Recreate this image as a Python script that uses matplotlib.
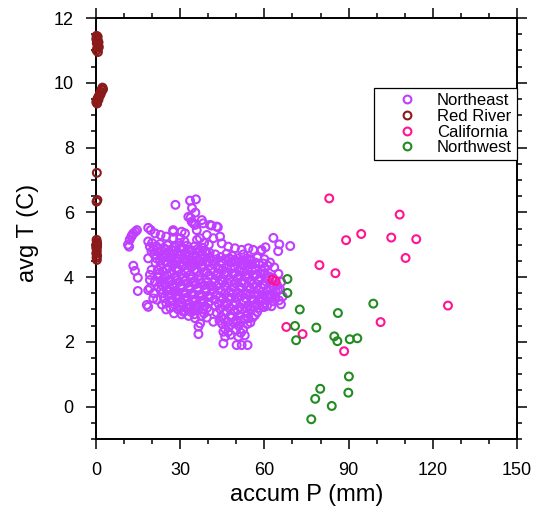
import matplotlib
matplotlib.use("Agg")
import matplotlib.pyplot as plt
from matplotlib.lines import Line2D
from matplotlib import ticker

plt.rcParams['font.family'] = ['Liberation Sans', 'DejaVu Sans']

# ---- data ----
northeast = [
    # sparse edges
    (35.6, 6.40), (33.5, 6.36), (28.3, 6.23), (34.2, 6.13), (35.4, 5.99), (33.7, 5.83),
    (37.7, 5.76), (34.7, 5.66), (41.2, 5.59), (43.4, 5.54), (35.9, 5.45), (31.7, 5.35),
    (27.5, 5.40), (63.2, 5.21), (65.3, 5.01), (69.2, 4.96), (60.4, 4.92), (58.8, 4.81),
    (64.9, 4.80), (32.9, 5.86), (34.1, 5.71), (35.3, 5.61), (30.5, 5.40), (38.2, 5.66),
    (40.6, 5.61), (43.0, 5.56), (41.8, 5.20), (44.2, 5.25), (44.8, 5.04), (47.1, 4.94),
    (49.5, 4.89), (51.9, 4.84), (54.3, 4.89), (56.0, 4.84), (59.0, 4.84), (49.5, 4.53),
    (51.9, 4.42), (53.7, 4.58),
    # lower tails
    (31.1, 2.93), (32.9, 3.03), (35.3, 2.73), (36.5, 2.47), (37.1, 2.57), (36.5, 2.24),
    (41.8, 2.62), (45.4, 2.31), (46.0, 2.16), (45.4, 1.95), (47.1, 2.31), (50.1, 2.62),
    (50.7, 2.16), (50.1, 1.90), (51.9, 1.90), (54.0, 1.90), (54.9, 3.03), (54.3, 2.73),
    (65.6, 3.62), (65.9, 3.16), (60.0, 3.08), (57.2, 3.19),
    # left arm
    (11.4, 5.00), (12.0, 5.15), (12.6, 5.25), (13.3, 5.35), (14.0, 5.40), (14.6, 5.45),
    (11.8, 4.94), (12.9, 5.30), (13.3, 4.35), (13.9, 4.19), (14.9, 3.98), (14.9, 3.57),
    (18.6, 5.52), (18.1, 3.14), (18.6, 3.08), (20.4, 3.34),
    (18.6, 5.10), (19.2, 4.94), (19.8, 4.79), (18.6, 4.58), (19.8, 4.22), (19.2, 4.07),
    (19.2, 3.91), (19.2, 3.65), (18.6, 3.60), (22.2, 4.01), (23.4, 3.76), (22.2, 3.70),
    (27.5, 5.45), (27.5, 5.20), (28.1, 4.94), (26.9, 4.42), (26.4, 3.65), (28.7, 3.45),
    (37.0, 5.20), (38.5, 5.05), (39.5, 5.30), (36.0, 5.15), (40.2, 5.00), (31.5, 5.10),
    (30.0, 5.20), (25.0, 5.25), (23.0, 5.30), (21.0, 5.35), (19.5, 5.45),
    # upper band
    (20.0, 5.05), (21.5, 4.95), (22.8, 5.02), (24.1, 4.90), (25.5, 4.98), (26.8, 4.85),
    (28.3, 4.93), (29.6, 5.05), (31.0, 4.88), (32.4, 4.97), (33.9, 4.83), (35.2, 4.95),
    (36.6, 4.80), (38.0, 4.90), (39.3, 4.76),
    (20.7, 4.70), (22.1, 4.78), (23.5, 4.62), (24.9, 4.73), (26.2, 4.60), (27.6, 4.70),
    (29.0, 4.56), (30.3, 4.66), (31.7, 4.52), (33.1, 4.63), (34.5, 4.50), (35.9, 4.60),
    (37.3, 4.47), (38.7, 4.58), (40.1, 4.45),
    (21.2, 4.45), (23.0, 4.35), (24.6, 4.48), (26.0, 4.30), (28.0, 4.40), (29.5, 4.25),
    (31.2, 4.35), (32.8, 4.22), (34.3, 4.33), (36.0, 4.18), (37.6, 4.28), (39.4, 4.15),
    (20.5, 4.85), (22.0, 4.88), (23.4, 4.80), (24.8, 4.85), (26.0, 4.75), (27.5, 4.82),
    (29.0, 4.78), (30.3, 4.90), (31.8, 4.75), (33.2, 4.85), (34.6, 4.72), (36.0, 4.85),
    (37.4, 4.70), (38.9, 4.80), (40.5, 4.75),
    (21.5, 4.58), (22.8, 4.50), (24.2, 4.60), (25.6, 4.45), (27.0, 4.55), (28.5, 4.48),
    (29.8, 4.40), (31.2, 4.58), (32.5, 4.45), (33.8, 4.52), (35.2, 4.40), (36.6, 4.52),
    (38.0, 4.38), (39.5, 4.48),
    (22.0, 4.22), (23.8, 4.18), (25.2, 4.25), (26.8, 4.15), (28.8, 4.20), (30.3, 4.10),
    (32.0, 4.15), (33.6, 4.08), (35.2, 4.22), (36.8, 4.05), (38.5, 4.15), (40.2, 4.05),
    # left core
    (22.5, 4.10), (24.0, 3.95), (25.4, 4.05), (26.8, 3.88), (28.2, 4.00), (29.7, 3.85),
    (31.1, 3.97), (32.6, 3.82), (34.0, 3.94), (35.5, 3.78), (36.9, 3.90), (38.4, 3.75),
    (39.8, 3.86), (41.2, 3.72),
    (23.2, 3.62), (24.7, 3.75), (26.1, 3.58), (27.6, 3.70), (29.0, 3.55), (30.5, 3.66),
    (31.9, 3.50), (33.4, 3.62), (34.8, 3.46), (36.3, 3.58), (37.7, 3.42), (39.2, 3.54),
    (40.6, 3.40),
    (24.2, 3.35), (25.7, 3.45), (27.1, 3.28), (28.6, 3.40), (30.0, 3.22), (31.5, 3.34),
    (32.9, 3.18), (34.4, 3.30), (35.8, 3.14), (37.3, 3.26), (38.7, 3.10), (40.2, 3.22),
    (26.5, 3.05), (29.3, 3.00), (31.8, 2.95), (34.0, 2.92), (36.2, 2.98), (38.5, 2.88),
    (40.5, 2.95), (21.0, 3.85), (20.5, 3.50), (21.8, 3.30), (23.5, 3.15), (25.0, 3.00),
    (23.0, 3.85), (24.5, 3.80), (25.8, 3.90), (27.3, 3.78), (28.8, 3.90), (30.2, 3.75),
    (31.8, 3.88), (33.2, 3.72), (34.7, 3.82), (36.2, 3.68), (37.6, 3.80), (39.0, 3.65),
    (40.5, 3.75),
    (23.8, 3.50), (25.2, 3.58), (26.8, 3.45), (28.2, 3.55), (29.7, 3.40), (31.2, 3.50),
    (32.6, 3.38), (34.1, 3.48), (35.5, 3.32), (37.0, 3.42), (38.4, 3.30), (39.9, 3.38),
    (25.0, 3.20), (26.5, 3.25), (28.0, 3.15), (29.5, 3.12), (31.0, 3.10), (32.3, 3.05),
    (33.8, 3.08), (35.2, 3.00), (36.8, 3.08), (38.0, 3.00), (39.6, 3.05),
    (27.8, 2.88), (30.5, 2.85), (33.0, 2.80), (35.0, 2.85), (37.5, 2.80), (39.5, 2.75),
    # right core
    (42.0, 4.40), (43.5, 4.28), (45.0, 4.42), (46.5, 4.30), (48.0, 4.45), (49.5, 4.32),
    (51.0, 4.20), (52.5, 4.35), (54.0, 4.22), (55.5, 4.38), (57.0, 4.25), (58.5, 4.12),
    (60.0, 4.28),
    (42.8, 4.05), (44.3, 3.92), (45.8, 4.08), (47.3, 3.95), (48.8, 4.10), (50.3, 3.97),
    (51.8, 3.85), (53.3, 4.00), (54.8, 3.88), (56.3, 4.02), (57.8, 3.90), (59.3, 3.78),
    (60.8, 3.95), (62.3, 3.82),
    (41.5, 3.60), (43.0, 3.72), (44.5, 3.58), (46.0, 3.70), (47.5, 3.55), (49.0, 3.68),
    (50.5, 3.52), (52.0, 3.65), (53.5, 3.50), (55.0, 3.62), (56.5, 3.48), (58.0, 3.60),
    (59.5, 3.45), (61.0, 3.58), (62.5, 3.42), (64.0, 3.55),
    (42.2, 3.30), (43.7, 3.18), (45.2, 3.32), (46.7, 3.20), (48.2, 3.35), (49.7, 3.22),
    (51.2, 3.08), (52.7, 3.25), (54.2, 3.12), (55.7, 3.28), (57.2, 3.15), (58.7, 3.30),
    (60.2, 3.20), (61.7, 3.35), (63.2, 3.25),
    (43.0, 2.90), (44.6, 2.78), (46.2, 2.92), (47.8, 2.80), (49.4, 2.95), (51.0, 2.82),
    (52.6, 2.70), (54.2, 2.88), (55.8, 2.75), (57.4, 2.92),
    (45.0, 2.55), (47.2, 2.45), (48.9, 2.60), (50.8, 2.50), (52.4, 2.38), (53.9, 2.55),
    (41.0, 4.25), (40.5, 4.60), (42.5, 4.70), (44.5, 4.62), (46.5, 4.72), (48.5, 4.65),
    (50.5, 4.58), (52.5, 4.70), (55.0, 4.55), (57.5, 4.60), (60.0, 4.55), (62.0, 4.45),
    (63.5, 4.30), (65.0, 4.10), (66.0, 3.85), (64.5, 3.75), (66.5, 3.40),
    (41.5, 4.50), (43.0, 4.55), (44.5, 4.48), (46.0, 4.55), (47.5, 4.58), (49.0, 4.50),
    (50.8, 4.45), (52.2, 4.52), (53.8, 4.42), (55.2, 4.50), (56.8, 4.45), (58.2, 4.40),
    (59.5, 4.42), (61.2, 4.35),
    (42.0, 4.15), (43.6, 4.12), (45.1, 4.22), (46.6, 4.15), (48.1, 4.25), (49.6, 4.12),
    (51.1, 4.05), (52.6, 4.15), (54.1, 4.08), (55.6, 4.20), (57.1, 4.08), (58.6, 3.98),
    (60.1, 4.10), (61.6, 4.02), (63.0, 3.98),
    (42.2, 3.85), (43.8, 3.80), (45.2, 3.85), (46.8, 3.82), (48.2, 3.85), (49.8, 3.80),
    (51.2, 3.70), (52.8, 3.80), (54.2, 3.72), (55.8, 3.78), (57.2, 3.70), (58.8, 3.68),
    (60.2, 3.75), (61.8, 3.68), (63.3, 3.70), (64.8, 3.60),
    (42.8, 3.45), (44.2, 3.40), (45.8, 3.48), (47.2, 3.38), (48.8, 3.50), (50.2, 3.38),
    (51.8, 3.42), (53.2, 3.35), (54.8, 3.45), (56.2, 3.32), (57.8, 3.45), (59.2, 3.35),
    (60.8, 3.40), (62.2, 3.48), (63.8, 3.38), (65.2, 3.28),
    (42.5, 3.10), (44.2, 3.02), (45.8, 3.12), (47.4, 3.05), (49.0, 3.12), (50.5, 2.98),
    (52.0, 3.00), (53.6, 3.05), (55.0, 2.98), (56.5, 3.08), (58.0, 3.05), (59.5, 3.08),
    (61.0, 3.12), (62.5, 3.10),
    (44.0, 2.65), (45.6, 2.70), (47.0, 2.62), (48.4, 2.75), (50.0, 2.68), (51.6, 2.62),
    (53.2, 2.70), (55.0, 2.60), (56.6, 2.82),
    (46.0, 2.40), (49.8, 2.35), (51.6, 2.28), (53.0, 2.20), (48.0, 2.22),
]

red_river = [
    (0.2, 11.45), (0.4, 11.38), (0.6, 11.30), (0.3, 11.22), (0.8, 11.15), (0.5, 11.08),
    (0.2, 11.00), (0.7, 10.95), (0.9, 11.25), (0.1, 11.35), (0.6, 11.42), (1.0, 11.10),
    (2.3, 9.85), (2.0, 9.78), (1.7, 9.72), (1.4, 9.66), (1.1, 9.60), (0.8, 9.55),
    (0.5, 9.50), (0.3, 9.45), (0.1, 9.40), (1.9, 9.70), (1.5, 9.62), (0.9, 9.48),
    (0.4, 9.36), (2.5, 9.80),
    (0.3, 7.22), (0.2, 6.33), (0.5, 6.38),
    (0.2, 5.15), (0.3, 5.08), (0.1, 5.00), (0.4, 4.95), (0.2, 4.88), (0.3, 4.80),
    (0.1, 4.73), (0.4, 4.66), (0.2, 4.60), (0.3, 4.53), (0.1, 4.92), (0.4, 5.03),
]

california = [
    (83.1, 6.43), (108.2, 5.93), (89.1, 5.14), (94.5, 5.33), (105.2, 5.22), (114.1, 5.17),
    (110.3, 4.59), (79.6, 4.37), (85.3, 4.12), (62.8, 3.92), (64.0, 3.88), (125.4, 3.12),
    (101.4, 2.61), (67.8, 2.46), (73.6, 2.24), (88.4, 1.71),
]

northwest = [
    (68.2, 3.94), (68.2, 3.51), (72.6, 3.00), (98.8, 3.18), (86.2, 2.89), (70.9, 2.49),
    (78.5, 2.44), (71.3, 2.05), (84.9, 2.17), (86.0, 2.02), (90.4, 2.08), (93.1, 2.11),
    (90.1, 0.93), (79.9, 0.55), (78.1, 0.24), (89.9, 0.43), (84.0, 0.02), (76.7, -0.39),
]

series = [
    ("Northeast", northeast, "#BF3EFF"),
    ("Red River", red_river, "#8B1A1A"),
    ("California", california, "#FF1493"),
    ("Northwest", northwest, "#228B22"),
]

fig = plt.figure(figsize=(5.34, 5.19), dpi=100)
ax = fig.add_axes([96 / 534, 1 - 439 / 519, 421 / 534, 421 / 519])

handles = []
for name, pts, col in series:
    xs = [p[0] for p in pts]
    ys = [p[1] for p in pts]
    ax.scatter(xs, ys, s=32, facecolors='none', edgecolors=col, linewidths=1.5,
               clip_on=False, zorder=3)
    handles.append(Line2D([], [], linestyle='none', marker='o', markersize=5.6,
                          markerfacecolor='none', markeredgecolor=col,
                          markeredgewidth=1.5, label=name))

ax.set_xlim(0, 150)
ax.set_ylim(-1, 12)
ax.xaxis.set_major_locator(ticker.MultipleLocator(30))
ax.xaxis.set_minor_locator(ticker.MultipleLocator(10))
ax.yaxis.set_major_locator(ticker.MultipleLocator(2))
ax.yaxis.set_minor_locator(ticker.MultipleLocator(0.5))

for s in ax.spines.values():
    s.set_linewidth(1.4)
ax.tick_params(which='both', direction='out', top=True, right=True, width=1.1)
ax.tick_params(which='major', length=7.5, labelsize=13)
ax.tick_params(which='minor', length=3.8)
ax.tick_params(axis='x', which='major', pad=9)
ax.tick_params(axis='y', which='major', pad=8.5)

ax.set_xlabel("accum P (mm)", fontsize=17)
ax.set_ylabel("avg T (C)", fontsize=17)
ax.xaxis.set_label_coords(0.5, -0.108)
ax.yaxis.set_label_coords(-0.135, 0.49)

leg = ax.legend(handles=handles, loc='upper right', bbox_to_anchor=(1.0, 0.833),
                borderaxespad=0, fontsize=12, handlelength=3.36, handletextpad=0.1,
                borderpad=0.3, labelspacing=0.04, fancybox=False, framealpha=1,
                edgecolor='black')
leg.get_frame().set_linewidth(0.9)

fig.savefig("out.png", dpi=100)
